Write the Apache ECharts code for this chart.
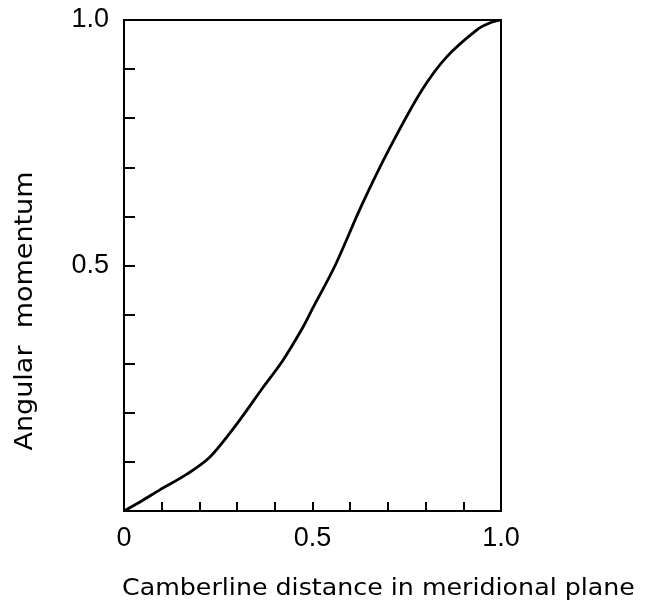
<!DOCTYPE html>
<html>
<head>
<meta charset="utf-8">
<script src="https://cdn.jsdelivr.net/npm/echarts@6/dist/echarts.min.js"></script>
<style>
html,body{margin:0;padding:0;background:#fff;}
#chart{width:648px;height:603px;}
</style>
</head>
<body>
<div id="chart"></div>
<script>
// Data
var xValues = [0, 0.05, 0.095, 0.167, 0.228, 0.30, 0.37, 0.42, 0.47, 0.50, 0.56, 0.63, 0.706, 0.79, 0.856, 0.936, 0.97, 1.0];
var yValues = [0, 0.022, 0.043, 0.075, 0.110, 0.178, 0.253, 0.305, 0.368, 0.412, 0.500, 0.622, 0.741, 0.857, 0.925, 0.980, 0.994, 1.0];
var xTickLabels = {'0': '0', '0.5': '0.5', '1': '1.0'};
var yTickLabels = {'0.5': '0.5', '1': '1.0'};
var xTitle = 'Camberline distance in meridional plane';
var yTitle = 'Angular  momentum';

var seriesData = xValues.map(function (x, i) { return [x, yValues[i]]; });
var FONT = "'Liberation Sans Narrow', 'Liberation Sans', Arial, sans-serif";

function lbl(map) {
  return function (v) {
    var k = String(Math.round(v * 10) / 10);
    return map.hasOwnProperty(k) ? map[k] : '';
  };
}

var chart = echarts.init(document.getElementById('chart'), null, {renderer: 'canvas'});
chart.setOption({
  animation: false,
  backgroundColor: '#fff',
  grid: {left: 124, right: 147, top: 20, bottom: 92, show: true, borderColor: '#000', borderWidth: 2, backgroundColor: 'transparent'},
  xAxis: {
    type: 'value', min: 0, max: 1, interval: 0.1,
    axisLine: {show: true, onZero: false, lineStyle: {color: '#000', width: 2}},
    axisTick: {show: true, inside: true, length: 9, lineStyle: {color: '#000', width: 2}},
    splitLine: {show: false},
    axisLabel: {formatter: lbl(xTickLabels), color: '#000', fontSize: 27, fontFamily: FONT, margin: 14, showMinLabel: true, showMaxLabel: true}
  },
  yAxis: {
    type: 'value', min: 0, max: 1, interval: 0.1,
    axisLine: {show: true, onZero: false, lineStyle: {color: '#000', width: 2}},
    axisTick: {show: true, inside: true, length: 11, lineStyle: {color: '#000', width: 2}},
    splitLine: {show: false},
    axisLabel: {formatter: lbl(yTickLabels), color: '#000', fontSize: 27, fontFamily: FONT, margin: 15, showMinLabel: true, showMaxLabel: true}
  },
  graphic: [
    {type: 'text', x: 122, y: 578, scaleX: 1.1, style: {text: xTitle, font: "23px 'DejaVu Sans', sans-serif", fill: '#000'}},
    {type: 'text', x: 25, y: 311, rotation: Math.PI / 2, scaleX: 1.08, style: {text: yTitle, font: "25px 'DejaVu Sans', sans-serif", fill: '#000', align: 'center', verticalAlign: 'middle'}}
  ],
  series: [{
    type: 'line', data: seriesData, smooth: 0.3, showSymbol: false,
    lineStyle: {color: '#000', width: 2.8}
  }]
});
</script>
</body>
</html>
